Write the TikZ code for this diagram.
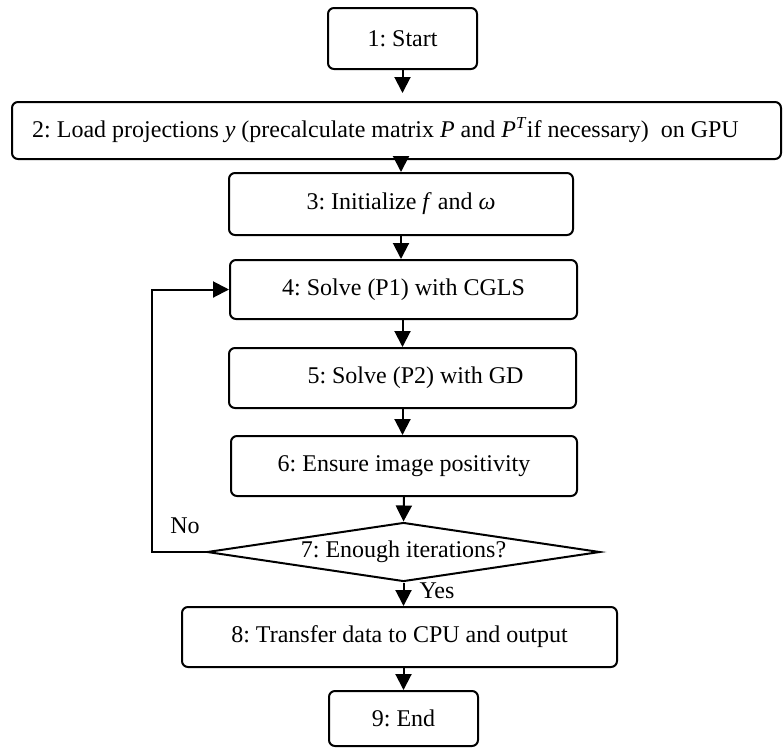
\documentclass[tikz,border=0pt]{standalone}
\usepackage{fontspec}
\setmainfont{Liberation Serif}
\usetikzlibrary{arrows.meta,shapes.geometric}
\frenchspacing
\begin{document}
\begin{tikzpicture}[x=1pt,y=-1pt,
  font=\fontsize{24}{28}\selectfont,
  stepbox/.style={draw, line width=2pt, rounded corners=6pt, inner sep=0pt, align=center},
  decide/.style={draw, diamond, line width=2pt, inner sep=0pt, aspect=6.6},
  arr/.style={line width=2pt, -{Triangle[length=16pt,width=16pt]}},
  lbl/.style={inner sep=0pt}]
\useasboundingbox (0,0) rectangle (784,748);
\node[stepbox, minimum width=149pt, minimum height=61pt] (b1) at (402.5,38.5) {1: Start};
\node[stepbox, minimum width=769pt, minimum height=57pt] (b2) at (396.5,130.5)
  {2: Load projections \textit{y} (precalculate matrix \textit{P} and \textit{P}\textsuperscript{\textit{T}}if necessary)~ on GPU\hspace{22pt}};
\node[stepbox, minimum width=344pt, minimum height=62pt] (b3) at (401,204) {3: Initialize \textit{f} and \textit{ω}};
\node[stepbox, minimum width=347pt, minimum height=59pt] (b4) at (403.5,289.5) {4: Solve (P1) with CGLS};
\node[stepbox, minimum width=347pt, minimum height=60pt] (b5) at (402.5,378) {\hspace{26pt}5: Solve (P2) with GD};
\node[stepbox, minimum width=346pt, minimum height=60pt] (b6) at (404,466) {6: Ensure image positivity};
\node[decide, minimum width=393pt, minimum height=59pt] (d7) at (403.5,552) {7: Enough iterations?\hspace{16pt}};
\node[stepbox, minimum width=435pt, minimum height=60pt] (b8) at (399.5,637) {8: Transfer data to CPU and output};
\node[stepbox, minimum width=149pt, minimum height=55pt] (b9) at (403.5,718.5) {9: End};
\node[lbl] (no) at (185,526) {No};
\node[lbl] (yes) at (437,591) {Yes};
\draw[arr, shorten >=8pt] (b1.south) -- (b1.south |- b2.north);
\draw[arr] (b3.north |- b2.south) -- (b3.north);
\draw[arr] (b3.south) -- (b3.south |- b4.north);
\draw[arr] (b5.north |- b4.south) -- (b5.north);
\draw[arr] (b5.south) -- (b5.south |- b6.north);
\draw[arr] (b6.south) -- (d7.north);
\draw[arr] (d7.south) -- (d7.south |- b8.north);
\draw[arr] (d7.south |- b8.south) -- (b9.north);
\draw[arr] (d7.west) -- ++(-54,0) |- (b4.west);
\end{tikzpicture}
\end{document}
